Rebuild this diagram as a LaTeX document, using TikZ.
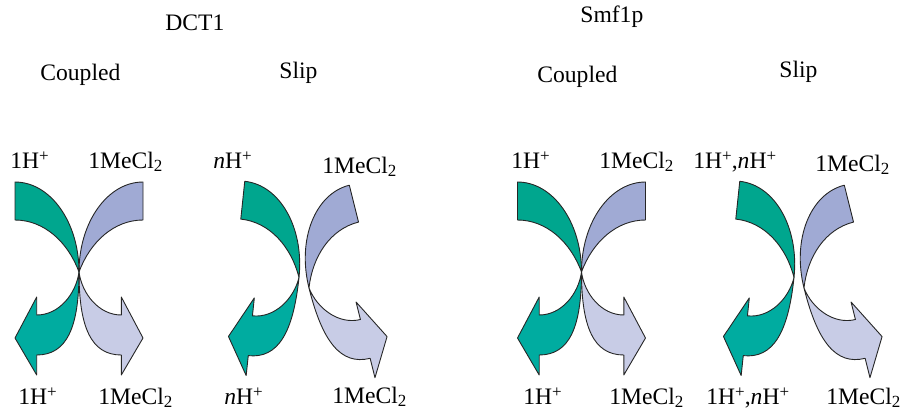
\documentclass[tikz,border=0pt]{standalone}
\usepackage{fontspec}
\setmainfont{Liberation Serif}
\definecolor{gup}{RGB}{0,166,142}
\definecolor{glo}{RGB}{0,172,160}
\definecolor{pup}{RGB}{160,170,212}
\definecolor{plo}{RGB}{200,204,230}
\tikzset{
  shp/.style={draw=black!85, line width=0.45pt, line join=round},
  lbl/.style={inner sep=0pt, anchor=base west, font=\fontsize{11.8}{13}\selectfont},
}
\newcommand\UpperHalf[1]{\path[shp, fill=#1] (-64,-90) -- (-64,-52) .. controls (-35,-52) and (-11,-30) .. (0,0) .. controls (0,-50) and (-28.7,-90) .. cycle;}
\newcommand\LowerHalf[1]{\path[shp, fill=#1] (0,0) .. controls (0,55) and (-12,83) .. (-42.3,83) -- (-42.3,103) -- (-64,66) -- (-42.3,25) -- (-42.3,43) .. controls (-20,43) and (-3,22) .. cycle;}
\newcommand\GreenArrow[3]{\begin{scope}[shift={(#1,#2)}, rotate=#3]\LowerHalf{glo}\UpperHalf{gup}\end{scope}}
\newcommand\PurpleArrow[3]{\begin{scope}[shift={(#1,#2)}, rotate=#3, xscale=-1]\LowerHalf{plo}\UpperHalf{pup}\end{scope}}
\newcommand\Hp{H\raisebox{0.62ex}{\fontsize{8.5}{9}\selectfont +}}
\newcommand\MeCl{1MeCl\raisebox{-0.35ex}{\fontsize{8.5}{9}\selectfont 2}}
\begin{document}
\begin{tikzpicture}[x=0.5pt, y=-0.5pt]
\useasboundingbox (0,0) rectangle (901,409);
% titles
\node[lbl] (dct) at (165,30) {DCT1};
\node[lbl] (smf) at (580,22) {Smf1p};
\node[lbl] (c1) at (40,80) {Coupled};
\node[lbl] (s2) at (279,78) {Slip};
\node[lbl] (c3) at (537,82) {Coupled};
\node[lbl] (s4) at (779,77) {Slip};
% arrows
\PurpleArrow{79}{272}{0}
\GreenArrow{79}{272}{0}
\PurpleArrow{309}{288}{14}
\GreenArrow{299}{277.5}{-6}
\PurpleArrow{581.5}{272}{0}
\GreenArrow{581.5}{272}{0}
\PurpleArrow{804}{288}{14}
\GreenArrow{794}{277.5}{-6}
% labels panel 1
\node[lbl] (a1) at (10,168) {1\Hp};
\node[lbl] (b1) at (88,168) {\MeCl};
\node[lbl] (c1b) at (18,404) {1\Hp};
\node[lbl] (d1) at (98,404) {\MeCl};
% panel 2
\node[lbl] (a2) at (213,168) {\textit{n}\Hp};
\node[lbl] (b2) at (322,173) {\MeCl};
\node[lbl] (c2) at (224,404) {\textit{n}\Hp};
\node[lbl] (d2) at (332,403) {\MeCl};
% panel 3
\node[lbl] (a3) at (511,168) {1\Hp};
\node[lbl] (b3) at (599,168) {\MeCl};
\node[lbl] (c3b) at (523,404) {1\Hp};
\node[lbl] (d3) at (609,404) {\MeCl};
% panel 4
\node[lbl] (a4) at (693,168) {1\Hp,\textit{n}\Hp};
\node[lbl] (b4) at (815,171) {\MeCl};
\node[lbl] (c4) at (706,404) {1\Hp,\textit{n}\Hp};
\node[lbl] (d4) at (826,404) {\MeCl};
\end{tikzpicture}
\end{document}
